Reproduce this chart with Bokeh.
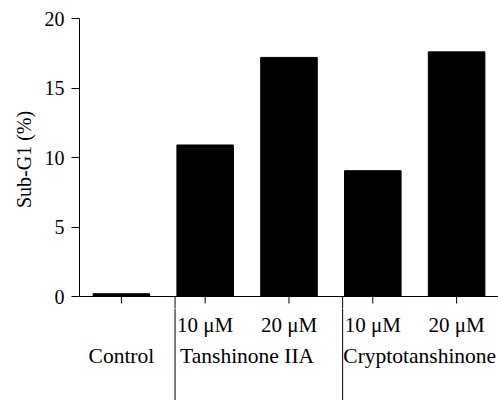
from bokeh.plotting import figure
from bokeh.layouts import column
from bokeh.models import Range1d, FixedTicker, Span, ColumnDataSource
from bokeh.core.properties import value
from bokeh.embed import file_html
from bokeh.resources import INLINE

# ---- data ----
conditions = ["Control", "10 μM", "20 μM", "10 μM", "20 μM"]
groups = ["Control", "Tanshinone IIA", "Tanshinone IIA", "Cryptotanshinone", "Cryptotanshinone"]
sub_g1 = [0.2, 10.9, 17.2, 9.05, 17.6]
y_ticks = [0, 5, 10, 15, 20]
y_title = "Sub-G1 (%)"

FONT = "Liberation Serif"
W, H = 498, 400
LEFT = 79
Y20, ZERO_Y = 18, 296            # pixel rows of y = 20 and y = 0
FRAME_TOP, TOP_H = 10, 308        # upper figure frame top / total height
px_per_unit = (ZERO_Y - Y20) / 20.0

n = len(sub_g1)
xs = list(range(n))
xr = Range1d(-0.5, n - 0.5)

# ---------- upper figure: bars + y axis ----------
p = figure(width=W, height=TOP_H, output_backend="svg", toolbar_location=None,
           x_range=xr,
           y_range=Range1d(-(TOP_H - ZERO_Y) / px_per_unit,
                           20 + (Y20 - FRAME_TOP) / px_per_unit),
           min_border_left=LEFT, min_border_top=FRAME_TOP, min_border_right=0,
           min_border_bottom=0)
p.outline_line_color = None
p.grid.visible = False
p.xaxis.visible = False

yax = p.yaxis[0]
yax.bounds = (0, 20)
yax.ticker = FixedTicker(ticks=y_ticks)
yax.minor_tick_line_color = None
yax.major_tick_in = 0
yax.major_tick_out = 8
yax.axis_line_color = "black"
yax.major_tick_line_color = "black"
yax.major_label_text_font = FONT
yax.major_label_text_font_size = "20px"
yax.major_label_text_color = "black"
yax.major_label_standoff = 7
yax.axis_label = y_title
yax.axis_label_text_font = FONT
yax.axis_label_text_font_style = "normal"
yax.axis_label_text_font_size = "20px"
yax.axis_label_text_color = "black"
yax.axis_label_standoff = 7

src = ColumnDataSource(dict(x=xs, top=sub_g1))
p.vbar(x="x", top="top", bottom=0, width=0.675, source=src,
       fill_color="black", line_color="black", line_width=1)
p.add_layout(Span(location=0, dimension="width", line_color="black", line_width=1))

# ---------- lower figure: ticks, separators, category labels (pixel y units) ----------
q = figure(width=W, height=H - TOP_H, output_backend="svg", toolbar_location=None,
           x_range=xr, y_range=Range1d(-(H - ZERO_Y), -(TOP_H - ZERO_Y)),
           min_border_left=LEFT, min_border_top=0, min_border_right=0,
           min_border_bottom=0)
q.outline_line_color = None
q.grid.visible = False
q.xaxis.visible = False
q.yaxis.visible = False

sep_x = [i - 0.36 for i in range(1, n) if groups[i] != groups[i - 1]]
for fig, scale in ((p, 1.0 / px_per_unit), (q, 1.0)):
    # tick marks below the axis
    fig.segment(x0=xs, y0=[0] * n, x1=xs, y1=[-7 * scale] * n,
                line_color="black", line_width=1)
    # group separators
    fig.segment(x0=sep_x, y0=[0] * len(sep_x), x1=sep_x,
                y1=[-(H - ZERO_Y) * scale] * len(sep_x),
                line_color="black", line_width=1)

# condition labels (first row)
lab_x = [x for x, c, g in zip(xs, conditions, groups) if c != g]
lab_t = [c for c, g in zip(conditions, groups) if c != g]
q.text(x=lab_x, y=[-28] * len(lab_x), text=lab_t, text_font=value(FONT),
       text_font_size="21px", text_align="center", text_baseline="middle",
       text_color="black")

# group labels (second row)
gnames, gx = [], []
for g in dict.fromkeys(groups):
    idx = [i for i, gg in enumerate(groups) if gg == g]
    gnames.append(g)
    gx.append(sum(idx) / len(idx))
gx[-1] += 0.06
q.text(x=gx, y=[-59] * len(gx), text=gnames, text_font=value(FONT),
       text_font_size="21.5px", text_align="center", text_baseline="middle",
       text_color="black")

layout = column(p, q, spacing=0)
open("out.html", "w").write(file_html(layout, INLINE))
